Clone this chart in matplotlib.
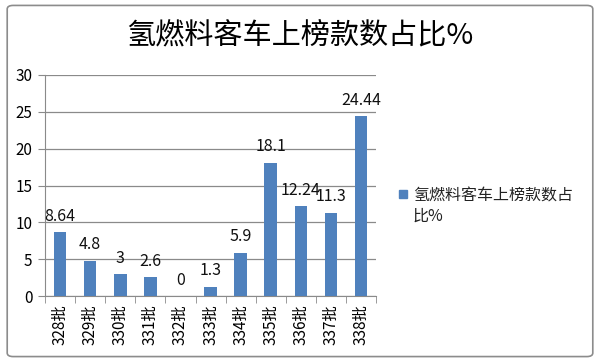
import matplotlib.pyplot as plt
from matplotlib.patches import FancyBboxPatch

plt.rcParams['font.family'] = ['Noto Sans CJK SC', 'DejaVu Sans']

batches = ["328批", "329批", "330批", "331批", "332批", "333批",
           "334批", "335批", "336批", "337批", "338批"]
shares = [8.64, 4.8, 3, 2.6, 0, 1.3, 5.9, 18.1, 12.24, 11.3, 24.44]
share_labels = ["8.64", "4.8", "3", "2.6", "0", "1.3", "5.9", "18.1", "12.24", "11.3", "24.44"]
series_name = "氢燃料客车上榜款数占比%"

fig = plt.figure(figsize=(6, 3.62), dpi=100)
border = FancyBboxPatch((0.012, 0.015), 0.976, 0.97, boxstyle="round,pad=0,rounding_size=0.01",
                        transform=fig.transFigure, fill=False, edgecolor="#8c8c8c", linewidth=1.2)
fig.patches.append(border)

ax = fig.add_axes([0.075, 0.182, 0.552, 0.611])
x = range(len(batches))
ax.bar(x, shares, width=0.42, color="#4f81bd", zorder=3)

for i, (v, lab) in enumerate(zip(shares, share_labels)):
    ax.text(i, v + 1.0, lab, ha="center", va="bottom", fontsize=11.5, color="#111111")

ax.set_ylim(0, 30)
ax.set_xlim(-0.5, len(batches) - 0.5)
ax.set_yticks([0, 5, 10, 15, 20, 25, 30])
ax.grid(axis="y", color="#8a8a8a", linewidth=0.9, zorder=0)
ax.tick_params(axis="y", length=5, color="#8a8a8a", labelsize=11, pad=4)
for s in ["top", "right"]:
    ax.spines[s].set_visible(False)
ax.spines["left"].set_color("#8a8a8a")
ax.spines["bottom"].set_color("#8a8a8a")

ax.set_xticks(x)
ax.set_xticklabels(batches, rotation=90, fontsize=11)
ax.tick_params(axis="x", length=0, pad=6)
ax.set_xticks([i + 0.5 for i in range(-1, len(batches))], minor=True)
ax.tick_params(axis="x", which="minor", length=5, color="#8a8a8a")

fig.text(0.5, 0.9, series_name, ha="center", va="center", fontsize=21,
         fontweight="medium", color="#000000")

fig.patches.append(plt.Rectangle((0.665, 0.452), 0.013, 0.022, transform=fig.transFigure,
                                 color="#4f81bd"))
fig.text(0.688, 0.43, "氢燃料客车上榜款数占\n比%", ha="left", va="center", fontsize=11.5,
         color="#222222", linespacing=1.25)

fig.savefig("out.png", dpi=100)
